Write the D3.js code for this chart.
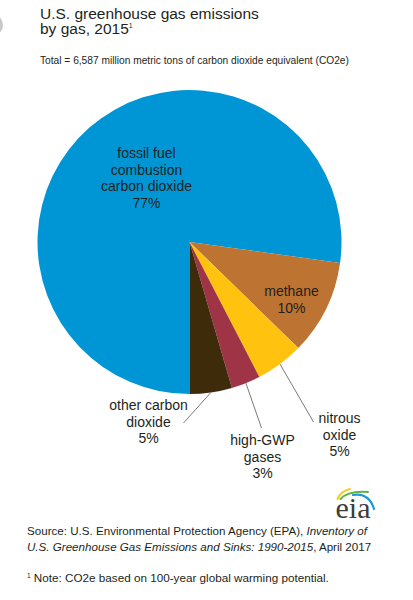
<!DOCTYPE html>
<html>
<head>
<meta charset="utf-8">
<script src="https://cdn.jsdelivr.net/npm/d3@7"></script>
<style>
  html, body { margin: 0; padding: 0; background: #ffffff; }
  svg { display: block; }
  text { font-family: "Liberation Sans", Arial, sans-serif; fill: #231f20; }
</style>
</head>
<body>
<svg id="chart" width="413" height="600"></svg>
<script>
// ---- data ----
const categories = ["fossil fuel combustion carbon dioxide", "methane", "nitrous oxide", "high-GWP gases", "other carbon dioxide"];
const shares = [77.2, 10.1, 5.1, 3.1, 4.5];
const percentLabels = ["77%", "10%", "5%", "3%", "5%"];
const labelLines = [
  ["fossil fuel", "combustion", "carbon dioxide"],
  ["methane"],
  ["nitrous", "oxide"],
  ["high-GWP", "gases"],
  ["other carbon", "dioxide"]
];
const colors = ["#0096d6", "#bd7331", "#ffc20e", "#a03447", "#3d2b09"];

// ---- layout ----
const svg = d3.select("#chart");
const cx = 189.5, cy = 242, R = 152;

// faint artifact at left edge
svg.append("ellipse").attr("cx", -6).attr("cy", 25).attr("rx", 9).attr("ry", 10).attr("fill", "#c8c8c8");

// title (one text element, two lines)
const title = svg.append("text").style("font-size", "15.5px");
title.append("tspan").attr("x", 40).attr("y", 18.5).text("U.S. greenhouse gas emissions");
title.append("tspan").attr("x", 40).attr("y", 33.5).text("by gas, 2015");
title.append("tspan").attr("dy", -6).style("font-size", "7px").text("1");

svg.append("text").attr("x", 40).attr("y", 64).style("font-size", "10.2px")
  .text("Total = 6,587 million metric tons of carbon dioxide equivalent (CO2e)");

// pie
const pie = d3.pie().sort(null).value(d => d).startAngle(Math.PI).endAngle(3 * Math.PI);
const arcs = pie(shares);
const arcGen = d3.arc().innerRadius(0).outerRadius(R);
const g = svg.append("g").attr("transform", `translate(${cx},${cy})`);
g.selectAll("path.slice").data(arcs).enter().append("path")
  .attr("class", "slice")
  .attr("d", arcGen)
  .attr("fill", (d, i) => colors[i]);

// label placement (offsets relative to pie centre) — annotation layout
const labelPos = [
  { x: -43, y: -84, inside: true },
  { x: 102, y: 54, inside: true },
  { x: 150, y: 181, inside: false, lx: 124, ly: 180 },
  { x: 73, y: 203, inside: false, lx: 72, ly: 186 },
  { x: -41, y: 168, inside: false, lx: -6, ly: 181 }
];
const lineH = 16.6;

arcs.forEach((a, i) => {
  const p = labelPos[i];
  const lines = labelLines[i].concat([percentLabels[i]]);
  const txt = g.append("text").attr("text-anchor", "middle").style("font-size", "14px");
  lines.forEach((l, k) => {
    txt.append("tspan").attr("x", p.x).attr("y", p.y + k * lineH).text(l);
  });
  if (!p.inside) {
    const mid = (a.startAngle + a.endAngle) / 2;
    const sx = Math.sin(mid) * R, sy = -Math.cos(mid) * R;
    g.append("line").attr("x1", sx).attr("y1", sy).attr("x2", p.lx).attr("y2", p.ly)
      .attr("stroke", "#7a7a7a").attr("stroke-width", 1);
  }
});

// eia logo (decorative swooshes)
const logo = svg.append("g").attr("fill", "none").attr("stroke-linecap", "round");
logo.append("path").attr("d", "M337.5,499 Q341,491 350,489").attr("stroke", "#f5cf1e").attr("stroke-width", 2);
logo.append("path").attr("d", "M340.5,499 Q348,490.5 368,492").attr("stroke", "#5db346").attr("stroke-width", 2);
logo.append("path").attr("d", "M353,495 Q369,492.5 374,509").attr("stroke", "#1d9ad6").attr("stroke-width", 2.2);
svg.append("text").attr("x", 353).attr("y", 517.5).attr("text-anchor", "middle")
  .style("font-family", "'Liberation Serif', 'DejaVu Serif', serif").style("font-size", "30px").style("fill", "#3c3c3c")
  .text("eia");

// source
const src = svg.append("text").style("font-size", "11.6px");
src.append("tspan").attr("x", 27).attr("y", 535).text("Source: U.S. Environmental Protection Agency (EPA), ");
src.append("tspan").style("font-style", "italic").text("Inventory of");
src.append("tspan").attr("x", 27).attr("y", 551).style("font-style", "italic").text("U.S. Greenhouse Gas Emissions and Sinks: 1990-2015");
src.append("tspan").text(", April 2017");

const note = svg.append("text").attr("x", 27).attr("y", 582).style("font-size", "11.7px");
note.append("tspan").attr("dy", -4).style("font-size", "6.5px").text("1");
note.append("tspan").attr("dy", 4).text(" Note: CO2e based on 100-year global warming potential.");
</script>
</body>
</html>
